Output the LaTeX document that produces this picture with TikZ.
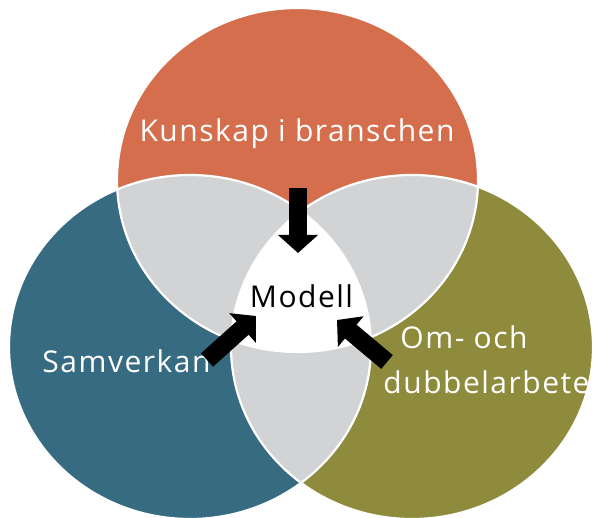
\documentclass[tikz,border=0pt]{standalone}
\usepackage{fontspec}
\setmainfont{Open Sans}
\newfontfamily\lblfont[LetterSpace=5]{Open Sans}
\usetikzlibrary{arrows.meta}
\definecolor{cOrange}{RGB}{213,110,77}
\definecolor{cBlue}{RGB}{54,107,130}
\definecolor{cOlive}{RGB}{142,139,60}
\definecolor{cGray}{RGB}{210,211,213}
\def\topE{(297.5,180) ellipse [x radius=180.5, y radius=172]}
\def\leftE{(190,347) ellipse [x radius=181, y radius=172]}
\def\rightE{(412,347) ellipse [x radius=181, y radius=172]}
\tikzset{
  lbl/.style={text=white, font=\lblfont\fontsize{30}{34}\selectfont, inner sep=0pt, anchor=base},
  blockarrow/.style={line width=18pt, -{Triangle[width=39pt,length=18pt]}, black},
  outline/.style={draw=white, line width=2.2pt}
}
\begin{document}
\begin{tikzpicture}[x=1pt,y=-1pt]
\useasboundingbox (0,0) rectangle (593,518);
\clip (0,0) rectangle (593,518);
% base circles
\fill[cOrange] \topE;
\fill[cBlue] \leftE;
\fill[cOlive] \rightE;
% pairwise overlaps
\begin{scope}\clip \topE; \fill[cGray] \leftE; \fill[cGray] \rightE; \end{scope}
\begin{scope}\clip \leftE; \fill[cGray] \rightE; \end{scope}
% triple overlap
\begin{scope}\clip \topE; \clip \leftE; \fill[white] \rightE; \end{scope}
% outlines
\draw[outline] \topE;
\draw[outline] \leftE;
\draw[outline] \rightE;
% labels
\node[lbl] (kun) at (297,142) {Kunskap i branschen};
\node[lbl] (sam) at (126.5,372) {Samverkan};
\node[lbl] (om) at (464,348) {Om- och};
\node[lbl] (dub) at (486.5,393) {dubbelarbete};
\node[lbl, text=black] (mod) at (301.5,307) {Modell};
% arrows
\coordinate (a1s) at (298,188); \coordinate (a1e) at (298,253);
\coordinate (a2s) at (207,360); \coordinate (a2e) at (256,316);
\coordinate (a3s) at (387,362); \coordinate (a3e) at (337,320);
\draw[blockarrow] (a1s) -- (a1e);
\draw[blockarrow] (a2s) -- (a2e);
\draw[blockarrow] (a3s) -- (a3e);
\end{tikzpicture}
\end{document}
